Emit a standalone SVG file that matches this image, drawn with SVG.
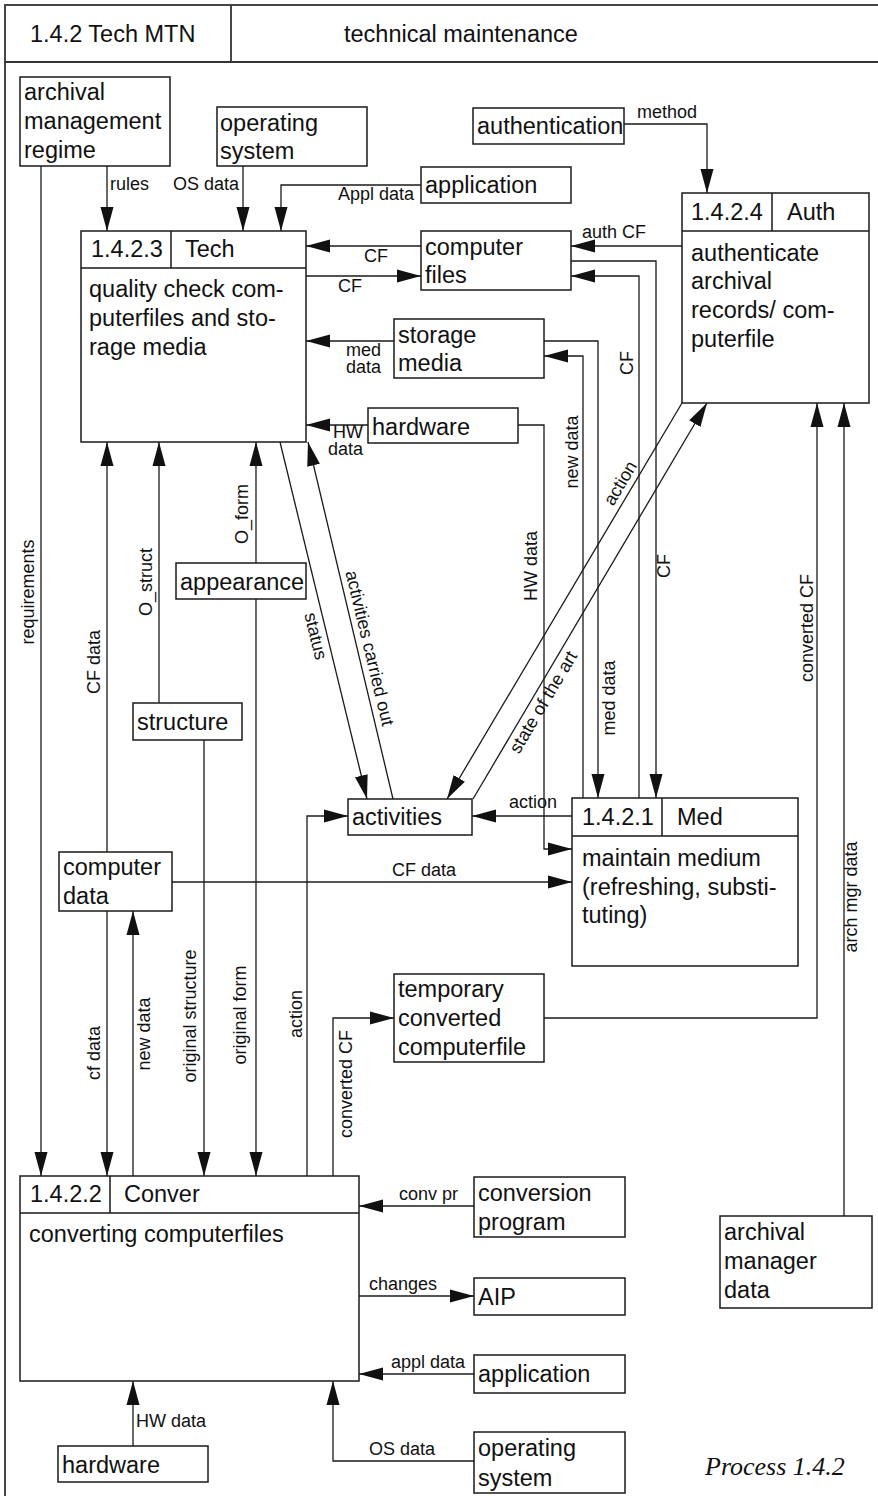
<svg xmlns="http://www.w3.org/2000/svg" width="878" height="1496" viewBox="0 0 878 1496">
<style>
.box{fill:#fff;stroke:#1a1a1a;stroke-width:1.5}
.frm{fill:none;stroke:#333;stroke-width:1.8}
.ln{fill:none;stroke:#1a1a1a;stroke-width:1.3;marker-end:url(#ah)}
text{font-family:"Liberation Sans",Arial,Helvetica,sans-serif;fill:#111}
.t{font-size:23.5px}
.l{font-size:18px}
.m{text-anchor:middle}
.cap{font-family:"Liberation Serif","Times New Roman",serif;font-style:italic;font-size:26px}
</style>
<defs>
<marker id="ah" markerUnits="userSpaceOnUse" markerWidth="24" markerHeight="14" refX="24" refY="7" orient="auto">
<path d="M0,0.5 L24,7 L0,13.5 Z" fill="#111"/>
</marker>
</defs>
<rect width="878" height="1496" fill="#fff"/>

<g id="frame">
<rect class="frm" x="5" y="5" width="900" height="1530"/>
<path class="frm" d="M5,62 H878 M231,5 V62"/>
<text class="t" x="30" y="42">1.4.2 Tech MTN</text>
<text class="t" x="344" y="42">technical maintenance</text>
</g>

<g id="connectors">
<path class="ln" d="M107,166 V231"/>
<path class="ln" d="M243,166 V231"/>
<path class="ln" d="M421,185 H281 V231"/>
<path class="ln" d="M421,246 H306"/>
<path class="ln" d="M306,276 H421"/>
<path class="ln" d="M394,341 H306"/>
<path class="ln" d="M368,425 H306"/>
<path class="ln" d="M624,124 H707 V193"/>
<path class="ln" d="M682,246 H571"/>
<path class="ln" d="M571,261 H656 V798"/>
<path class="ln" d="M639,798 V276 H571"/>
<path class="ln" d="M544,341 H598 V798"/>
<path class="ln" d="M583,798 V356 H544"/>
<path class="ln" d="M518,425 H544 V849 H572"/>
<path class="ln" d="M682,403 L447,799"/>
<path class="ln" d="M473,799 L707,403"/>
<path class="ln" d="M280,442 L367,799"/>
<path class="ln" d="M393,799 L308,442"/>
<path class="ln" d="M572,816 H472"/>
<path class="ln" d="M41,166 V1176"/>
<path class="ln" d="M107,852 V442"/>
<path class="ln" d="M159,703 V442"/>
<path class="ln" d="M256,563 V442"/>
<path class="ln" d="M204,740 V1176"/>
<path class="ln" d="M256,599 V1176"/>
<path class="ln" d="M107,911 V1176"/>
<path class="ln" d="M133,1176 V911"/>
<path class="ln" d="M307,1176 V816 H348"/>
<path class="ln" d="M333,1176 V1018 H394"/>
<path class="ln" d="M172,882 H572"/>
<path class="ln" d="M544,1018 H817 V403"/>
<path class="ln" d="M844,1216 V403"/>
<path class="ln" d="M474,1206 H359"/>
<path class="ln" d="M359,1296 H474"/>
<path class="ln" d="M474,1374 H359"/>
<path class="ln" d="M474,1461 H333 V1381"/>
<path class="ln" d="M133,1446 V1381"/>

<g class="l">
<text x="110" y="190">rules</text>
<text x="239" y="190" text-anchor="end">OS data</text>
<text x="338" y="200">Appl data</text>
<text x="364" y="262">CF</text>
<text x="338" y="292">CF</text>
<text x="346" y="356">med<tspan x="346" dy="17">data</tspan></text>
<text x="333" y="438">HW<tspan x="328" dy="17">data</tspan></text>
<text x="637" y="118">method</text>
<text x="582" y="238">auth CF</text>
<text x="509" y="808">action</text>
<text x="392" y="876">CF data</text>
<text x="399" y="1200">conv pr</text>
<text x="369" y="1290">changes</text>
<text x="391" y="1368">appl data</text>
<text x="369" y="1455">OS data</text>
<text x="136" y="1427">HW data</text>
<text class="m" transform="translate(33.5,592) rotate(-90)">requirements</text>
<text class="m" transform="translate(100,662) rotate(-90)">CF data</text>
<text class="m" transform="translate(152,582) rotate(-90)">O_struct</text>
<text class="m" transform="translate(248,514) rotate(-90)">O_form</text>
<text class="m" transform="translate(100,1053) rotate(-90)">cf data</text>
<text class="m" transform="translate(150,1034) rotate(-90)">new data</text>
<text class="m" transform="translate(196,1016) rotate(-90)">original structure</text>
<text class="m" transform="translate(246,1015) rotate(-90)">original form</text>
<text class="m" transform="translate(302,1014) rotate(-90)">action</text>
<text class="m" transform="translate(352,1084) rotate(-90)">converted CF</text>
<text class="m" transform="translate(537,566) rotate(-90)">HW data</text>
<text class="m" transform="translate(578,452) rotate(-90)">new data</text>
<text class="m" transform="translate(633,363) rotate(-90)">CF</text>
<text class="m" transform="translate(615,698) rotate(-90)">med data</text>
<text class="m" transform="translate(670,566) rotate(-90)">CF</text>
<text class="m" transform="translate(813,628) rotate(-90)">converted CF</text>
<text class="m" transform="translate(857,897) rotate(-90)">arch mgr data</text>
<text class="m" dy="0.35em" transform="translate(620,483) rotate(-59.2)">action</text>
<text class="m" dy="0.35em" transform="translate(543,702) rotate(-59.2)">state of the art</text>
<text class="m" dy="0.35em" transform="translate(316,636) rotate(76.2)">status</text>
<text class="m" dy="0.35em" transform="translate(370,648) rotate(76.5)">activities carried out</text>
</g>
</g>

<g id="n-archival-management-regime">
<rect class="box" x="20" y="77" width="150" height="89"/>
<text class="t" x="24" y="100">archival</text>
<text class="t" x="24" y="129">management</text>
<text class="t" x="24" y="158">regime</text>
</g>
<g id="n-operating-system-top">
<rect class="box" x="217" y="107" width="150" height="59"/>
<text class="t" x="220" y="131">operating</text>
<text class="t" x="220" y="159">system</text>
</g>
<g id="n-authentication">
<rect class="box" x="473" y="108" width="151" height="36"/>
<text class="t" x="477" y="134">authentication</text>
</g>
<g id="n-application-top">
<rect class="box" x="421" y="167" width="150" height="36"/>
<text class="t" x="425" y="193">application</text>
</g>
<g id="n-tech">
<rect class="box" x="81" y="231" width="225" height="211"/>
<path class="box" d="M81,268 H306 M171,231 V268"/>
<text class="t" x="91" y="257">1.4.2.3</text>
<text class="t" x="185" y="257">Tech</text>
<text class="t" x="89" y="297">quality check com-</text>
<text class="t" x="89" y="326">puterfiles and sto-</text>
<text class="t" x="89" y="355">rage media</text>
</g>
<g id="n-computer-files">
<rect class="box" x="421" y="231" width="150" height="59"/>
<text class="t" x="425" y="255">computer</text>
<text class="t" x="425" y="283">files</text>
</g>
<g id="n-auth">
<rect class="box" x="682" y="193" width="187" height="210"/>
<path class="box" d="M682,231 H869 M772,193 V231"/>
<text class="t" x="691" y="220">1.4.2.4</text>
<text class="t" x="787" y="220">Auth</text>
<text class="t" x="691" y="261">authenticate</text>
<text class="t" x="691" y="289">archival</text>
<text class="t" x="691" y="318">records/ com-</text>
<text class="t" x="691" y="347">puterfile</text>
</g>
<g id="n-storage-media">
<rect class="box" x="394" y="319" width="150" height="59"/>
<text class="t" x="398" y="343">storage</text>
<text class="t" x="398" y="371">media</text>
</g>
<g id="n-hardware-top">
<rect class="box" x="368" y="408" width="150" height="35"/>
<text class="t" x="372" y="435">hardware</text>
</g>
<g id="n-appearance">
<rect class="box" x="176" y="563" width="130" height="36"/>
<text class="t" x="180" y="590">appearance</text>
</g>
<g id="n-structure">
<rect class="box" x="133" y="703" width="109" height="37"/>
<text class="t" x="137" y="730">structure</text>
</g>
<g id="n-activities">
<rect class="box" x="348" y="799" width="124" height="36"/>
<text class="t" x="352" y="825">activities</text>
</g>
<g id="n-med">
<rect class="box" x="572" y="798" width="226" height="168"/>
<path class="box" d="M572,836 H798 M662,798 V836"/>
<text class="t" x="582" y="825">1.4.2.1</text>
<text class="t" x="677" y="825">Med</text>
<text class="t" x="582" y="866">maintain medium</text>
<text class="t" x="582" y="895">(refreshing, substi-</text>
<text class="t" x="582" y="923">tuting)</text>
</g>
<g id="n-computer-data">
<rect class="box" x="59" y="852" width="113" height="59"/>
<text class="t" x="63" y="875">computer</text>
<text class="t" x="63" y="904">data</text>
</g>
<g id="n-temporary-converted-computerfile">
<rect class="box" x="394" y="974" width="150" height="88"/>
<text class="t" x="398" y="997">temporary</text>
<text class="t" x="398" y="1026">converted</text>
<text class="t" x="398" y="1055">computerfile</text>
</g>
<g id="n-conver">
<rect class="box" x="20" y="1176" width="339" height="205"/>
<path class="box" d="M20,1213 H359 M110,1176 V1213"/>
<text class="t" x="30" y="1202">1.4.2.2</text>
<text class="t" x="124" y="1202">Conver</text>
<text class="t" x="29" y="1242">converting computerfiles</text>
</g>
<g id="n-conversion-program">
<rect class="box" x="474" y="1177" width="151" height="60"/>
<text class="t" x="478" y="1201">conversion</text>
<text class="t" x="478" y="1230">program</text>
</g>
<g id="n-archival-manager-data">
<rect class="box" x="720" y="1216" width="152" height="92"/>
<text class="t" x="724" y="1240">archival</text>
<text class="t" x="724" y="1269">manager</text>
<text class="t" x="724" y="1298">data</text>
</g>
<g id="n-aip">
<rect class="box" x="474" y="1278" width="151" height="37"/>
<text class="t" x="478" y="1305">AIP</text>
</g>
<g id="n-application-bottom">
<rect class="box" x="474" y="1355" width="151" height="38"/>
<text class="t" x="478" y="1382">application</text>
</g>
<g id="n-operating-system-bottom">
<rect class="box" x="474" y="1432" width="151" height="61"/>
<text class="t" x="478" y="1456">operating</text>
<text class="t" x="478" y="1486">system</text>
</g>
<g id="n-hardware-bottom">
<rect class="box" x="58" y="1446" width="150" height="36"/>
<text class="t" x="62" y="1473">hardware</text>
</g>
<text class="cap" x="705" y="1475">Process 1.4.2</text>
</svg>
